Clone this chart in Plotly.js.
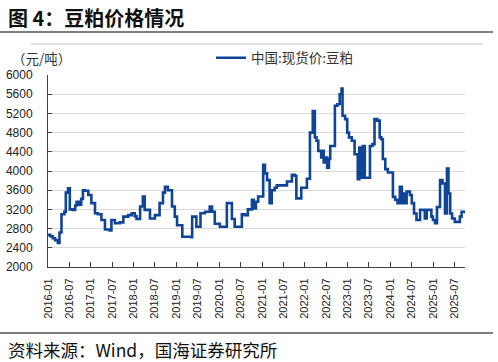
<!DOCTYPE html>
<html>
<head>
<meta charset="utf-8">
<script src="https://cdn.plot.ly/plotly-3.0.1.min.js"></script>
<style>
html,body{margin:0;padding:0;background:#fff;}
#chart{width:498px;height:362px;}
</style>
</head>
<body>
<div id="chart"></div>
<script>
const seriesName = "中国:现货价:豆粕";
const dates = [
"2016-01-01","2016-01-20","2016-02-10","2016-03-01","2016-03-25","2016-04-08","2016-04-25","2016-05-20","2016-06-01","2016-06-20",
"2016-07-05","2016-08-01","2016-08-20","2016-09-01","2016-09-20","2016-10-10","2016-10-25","2016-11-10","2016-12-10",
"2017-01-05","2017-02-05","2017-03-01","2017-04-01","2017-05-01","2017-06-10","2017-06-25","2017-07-25","2017-09-05","2017-10-05","2017-11-15","2017-12-15",
"2018-01-10","2018-01-25","2018-02-25","2018-03-20","2018-04-05","2018-05-20","2018-07-01","2018-08-10","2018-09-08","2018-09-25","2018-10-20","2018-11-06","2018-11-24","2018-12-18",
"2019-01-06","2019-02-20","2019-05-10","2019-05-15","2019-06-20","2019-07-25","2019-09-01","2019-10-12","2019-11-01","2019-11-24",
"2020-01-06","2020-02-20","2020-03-06","2020-04-01","2020-04-18","2020-05-12","2020-06-24","2020-07-12","2020-08-06","2020-09-01","2020-10-06","2020-10-22","2020-11-09","2020-11-28","2020-12-30",
"2021-01-10","2021-01-25","2021-02-12","2021-03-06","2021-03-24","2021-04-18","2021-05-06","2021-07-12","2021-08-01","2021-09-12","2021-10-06","2021-10-20","2021-12-01",
"2022-01-05","2022-01-18","2022-02-13","2022-03-09","2022-03-27","2022-04-10","2022-04-25","2022-05-10","2022-05-20","2022-06-01","2022-06-10","2022-06-25","2022-07-10","2022-07-25","2022-08-05","2022-08-30","2022-09-14","2022-10-05","2022-10-25","2022-11-10","2022-11-18","2022-12-10","2022-12-28",
"2023-01-12","2023-02-05","2023-03-01","2023-03-18","2023-03-28","2023-04-10","2023-04-25","2023-05-10","2023-05-27","2023-06-15","2023-07-10","2023-08-01","2023-08-18","2023-09-10","2023-10-01","2023-10-15","2023-10-28","2023-11-18","2023-12-10",
"2024-01-10","2024-01-22","2024-02-10","2024-03-01","2024-03-21","2024-04-07","2024-04-20","2024-05-03","2024-05-18","2024-06-01","2024-06-15","2024-07-01","2024-07-20","2024-08-10","2024-08-25","2024-09-10","2024-10-05","2024-10-20","2024-11-05","2024-12-01","2024-12-15","2024-12-28",
"2025-01-15","2025-02-01","2025-02-10","2025-02-27","2025-03-20","2025-04-10","2025-04-27","2025-05-10","2025-05-25","2025-06-10","2025-06-20","2025-07-03","2025-07-28","2025-08-15","2025-08-30","2025-09-28"
];
const prices = [
2670,2640,2600,2560,2500,2720,3100,3150,3550,3640,
3200,3190,3280,3360,3300,3420,3600,3590,3500,
3330,3120,3100,2980,2780,2760,2980,2910,2930,3050,3080,3120,
3060,3000,3260,3470,3190,3010,3080,3330,3550,3670,3600,3600,3260,3050,
2870,2630,2620,3050,2840,3120,3150,3260,3150,2900,
2840,2840,3330,3330,3000,2840,2840,3100,3080,3200,3400,3220,3360,3470,3470,
4130,3950,3810,3330,3600,3650,3700,3700,3780,3920,3900,3430,3650,
3650,3840,4800,5250,4700,4630,4420,4420,4280,4420,4180,4280,4070,4250,4520,4520,5360,5390,5600,5720,5150,5080,4800,
4700,4630,4350,4350,3830,4490,3860,4520,3860,3860,4520,4560,5080,5050,4700,4660,4250,4040,3970,
3970,3460,3400,3330,3670,3330,3530,3330,3570,3570,3500,3330,3115,2980,2980,3190,3190,3010,3190,3190,3050,2980,
2910,3250,3250,3810,3740,3115,4050,3530,3115,3010,3010,2940,2940,3050,3150,3120
];
const yTicks = [2000,2400,2800,3200,3600,4000,4400,4800,5200,5600,6000];

const L = 48, R = 465, T = 75, B = 267;
const px = x => (x - L) / (R - L);
const py = y => (B - y) / (B - T);

const trace = {
  x: dates, y: prices, type: 'scatter', mode: 'lines', name: seriesName,
  line: {color: '#0f4496', width: 2.6, shape: 'hv'}
};

const cjk = '"Noto Sans CJK SC", "Liberation Sans", sans-serif';
const layout = {
  width: 498, height: 362,
  margin: {l: L, r: 498 - R, t: T, b: 362 - B},
  paper_bgcolor: '#fff', plot_bgcolor: '#fff',
  showlegend: true,
  legend: {orientation: 'h', x: px(211), xanchor: 'left', y: py(58), yanchor: 'middle',
           font: {family: cjk, size: 13.5, color: '#333'}, bgcolor: 'rgba(0,0,0,0)'},
  xaxis: {
    type: 'date', range: ['2016-01-01', '2025-09-28'],
    tick0: '2016-01-01', dtick: 'M6', tickformat: '%Y-%m', tickangle: -90,
    ticks: 'inside', ticklen: 5, tickcolor: '#404040', tickwidth: 1,
    showline: true, linecolor: '#404040', linewidth: 1, showgrid: false, zeroline: false,
    tickfont: {family: '"Liberation Sans", Arial, sans-serif', size: 11, color: '#222'},
    ticklabelstandoff: 6
  },
  yaxis: {
    range: [2000, 6000], tickvals: yTicks, ticktext: yTicks.map(String),
    ticks: 'inside', ticklen: 4, tickcolor: '#404040', tickwidth: 1,
    showline: true, linecolor: '#404040', linewidth: 1,
    showgrid: true, gridcolor: '#d9d9d9', gridwidth: 1, zeroline: false,
    tickfont: {family: '"Liberation Sans", Arial, sans-serif', size: 12, color: '#222'},
    ticklabelstandoff: 12
  },
  shapes: [
    {type: 'line', xref: 'paper', yref: 'paper', x0: px(0), x1: px(493), y0: py(32), y1: py(32), line: {color: '#555', width: 1.5}},
    {type: 'line', xref: 'paper', yref: 'paper', x0: px(31), x1: px(483), y0: py(44), y1: py(44), line: {color: '#c8c8c8', width: 1}},
    {type: 'line', xref: 'paper', yref: 'paper', x0: px(0), x1: px(493), y0: py(333), y1: py(333), line: {color: '#555', width: 1.5}}
  ],
  annotations: [
    {text: '<b>图 4：豆粕价格情况</b>', xref: 'paper', yref: 'paper', x: px(6), y: py(17), xanchor: 'left', yanchor: 'middle', showarrow: false,
     font: {family: cjk, size: 20, color: '#111'}},
    {text: '（元/吨）', xref: 'paper', yref: 'paper', x: px(10), y: py(58), xanchor: 'left', yanchor: 'middle', showarrow: false,
     font: {family: cjk, size: 13.5, color: '#333'}},
    {text: '资料来源：Wind，国海证券研究所', xref: 'paper', yref: 'paper', x: px(6), y: py(349), xanchor: 'left', yanchor: 'middle', showarrow: false,
     font: {family: cjk, size: 17.5, color: '#111'}}
  ]
};

Plotly.newPlot('chart', [trace], layout, {displayModeBar: false, staticPlot: true});
</script>
</body>
</html>
